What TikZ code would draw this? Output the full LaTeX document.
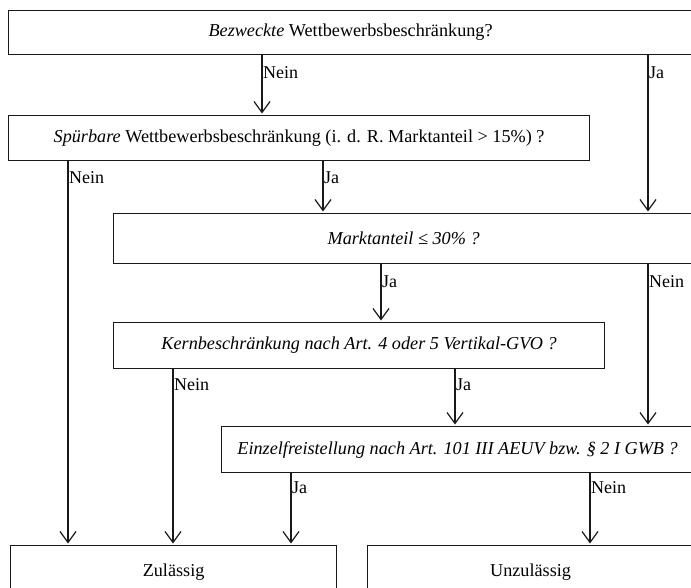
\documentclass[tikz,border=0pt]{standalone}
\usepackage{fontspec}
\setmainfont{Liberation Serif}
\usetikzlibrary{arrows.meta}
\begin{document}
\begin{tikzpicture}[x=1pt,y=-1pt,
  box/.style={draw=black!90, line width=1.2pt, anchor=north west, inner sep=0pt,
    font=\fontsize{18.2}{20}\selectfont},
  lab/.style={anchor=west, inner sep=0pt, font=\fontsize{18}{20}\selectfont},
  arr/.style={draw=black!90, line width=1.2pt, -{Straight Barb[length=11pt,width=16pt,line width=1.2pt]}, shorten >=1.5pt}]
\useasboundingbox (0,0) rectangle (691,588);
\clip (0,0) rectangle (691,588);
\fill[white] (0,0) rectangle (691,588);
% boxes
\node[box, minimum width=684pt, minimum height=44pt] (b1) at (8,10) {\textit{Bezweckte} Wettbewerbsbeschränkung?};
\node[box, minimum width=581pt, minimum height=45pt] (b2) at (8,115) {\textit{Spürbare} Wettbewerbsbeschränkung (i. d. R. Marktanteil > 15\%) ?};
\node[box, minimum width=580pt, minimum height=50pt] (b3) at (113,213) {\textit{Marktanteil ≤ 30\% ?}};
\node[box, minimum width=491pt, minimum height=46pt] (b4) at (113,322) {\textit{Kernbeschränkung nach Art. 4 oder 5 Vertikal-GVO ?}};
\node[box, minimum width=472pt, minimum height=46pt] (b5) at (221,426) {\textit{Einzelfreistellung nach Art. 101 III AEUV bzw. § 2 I GWB ?}};
\node[box, minimum width=326pt, minimum height=54pt] (b6) at (10,545) {Zulässig};
\node[box, minimum width=326pt, minimum height=54pt] (b7) at (367,545) {Unzulässig};
% connectors
\draw[arr] (262,0 |- b1.south) -- (262,0 |- b2.north);
\draw[arr] (648,0 |- b1.south) -- (648,0 |- b3.north);
\draw[arr] (68,0 |- b2.south) -- (68,0 |- b6.north);
\draw[arr] (323,0 |- b2.south) -- (323,0 |- b3.north);
\draw[arr] (381,0 |- b3.south) -- (381,0 |- b4.north);
\draw[arr] (648,0 |- b3.south) -- (648,0 |- b5.north);
\draw[arr] (173,0 |- b4.south) -- (173,0 |- b6.north);
\draw[arr] (455,0 |- b4.south) -- (455,0 |- b5.north);
\draw[arr] (291,0 |- b5.south) -- (291,0 |- b6.north);
\draw[arr] (590,0 |- b5.south) -- (590,0 |- b7.north);
% labels
\node[lab] (l1) at (263,73) {Nein};
\node[lab] (l2) at (649,73) {Ja};
\node[lab] (l3) at (69,178) {Nein};
\node[lab] (l4) at (324,178) {Ja};
\node[lab] (l5) at (382,282) {Ja};
\node[lab] (l6) at (649,282) {Nein};
\node[lab] (l7) at (174,385) {Nein};
\node[lab] (l8) at (456,385) {Ja};
\node[lab] (l9) at (292,488) {Ja};
\node[lab] (l10) at (591,488) {Nein};
\end{tikzpicture}
\end{document}
